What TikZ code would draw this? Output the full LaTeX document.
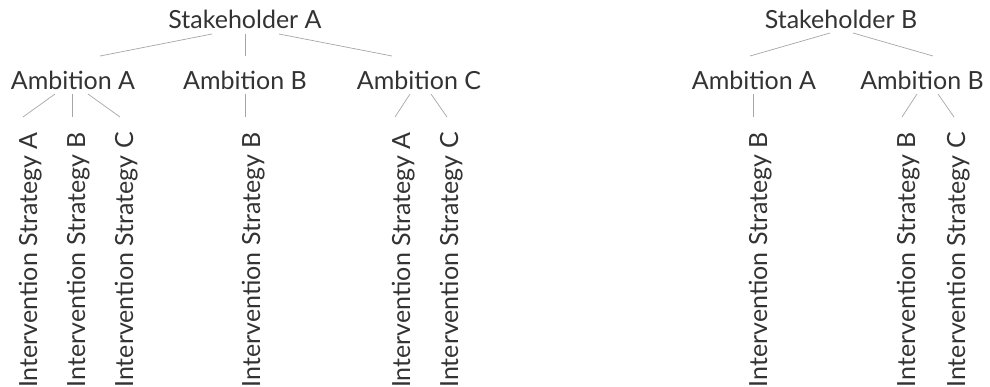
\documentclass[tikz,border=0pt]{standalone}
\usepackage{fontspec}
\setmainfont{Lato}
\usepackage{tikz}

\begin{document}
\begin{tikzpicture}[x=1pt, y=-1pt, font=\fontsize{25}{30}\selectfont, every node/.style={text=black!80, inner sep=0pt}, holder/.style={anchor=base}, ambit/.style={anchor=base}, strat/.style={rotate=90, anchor=base east}, link/.style={draw=black!35, line width=0.7pt}]
\useasboundingbox (0,0) rectangle (990,386);
% stakeholder A
\node[holder] (sa) at (245,28) {Stakeholder A};
\node[ambit] (saA) at (73,89) {Ambition A};
\node[ambit] (saB) at (245,89) {Ambition B};
\node[ambit] (saC) at (419,89) {Ambition C};
\node[strat] (saA1) at (37,132) {Intervention Strategy A};
\node[strat] (saA2) at (85,132) {Intervention Strategy B};
\node[strat] (saA3) at (133,132) {Intervention Strategy C};
\node[strat] (saB1) at (260,132) {Intervention Strategy B};
\node[strat] (saC1) at (410,132) {Intervention Strategy A};
\node[strat] (saC2) at (458,132) {Intervention Strategy C};
% stakeholder B
\node[holder] (sb) at (841,28) {Stakeholder B};
\node[ambit] (sbA) at (754,89) {Ambition A};
\node[ambit] (sbB) at (922,89) {Ambition B};
\node[strat] (sbA1) at (767,132) {Intervention Strategy B};
\node[strat] (sbB1) at (915,132) {Intervention Strategy B};
\node[strat] (sbB2) at (965,132) {Intervention Strategy C};
% links
\draw[link] ([xshift=-33pt,yshift=-6pt]sa.base) -- ([xshift=27pt,yshift=33pt]saA.base);
\draw[link] ([yshift=-6pt]sa.base) -- ([yshift=33pt]saB.base);
\draw[link] ([xshift=34pt,yshift=-6pt]sa.base) -- ([xshift=-27pt,yshift=33pt]saC.base);
\draw[link] ([xshift=-18pt,yshift=-5pt]saA.base) -- ([xshift=-14pt,yshift=15pt]saA1.base east);
\draw[link] ([xshift=-1pt,yshift=-5pt]saA.base) -- ([xshift=-13pt,yshift=15pt]saA2.base east);
\draw[link] ([xshift=15pt,yshift=-5pt]saA.base) -- ([xshift=-13pt,yshift=15pt]saA3.base east);
\draw[link] ([yshift=-5pt]saB.base) -- ([xshift=-15pt,yshift=15pt]saB1.base east);
\draw[link] ([xshift=-9pt,yshift=-5pt]saC.base) -- ([xshift=-15pt,yshift=15pt]saC1.base east);
\draw[link] ([xshift=12pt,yshift=-5pt]saC.base) -- ([xshift=-11pt,yshift=15pt]saC2.base east);
\draw[link] ([xshift=-11pt,yshift=-5pt]sb.base) -- ([xshift=-4pt,yshift=33pt]sbA.base);
\draw[link] ([xshift=12pt,yshift=-5pt]sb.base) -- ([xshift=11pt,yshift=33pt]sbB.base);
\draw[link] ([xshift=-1pt,yshift=-5pt]sbA.base) -- ([xshift=-14pt,yshift=15pt]sbA1.base east);
\draw[link] ([xshift=-5pt,yshift=-5pt]sbB.base) -- ([xshift=-13pt,yshift=15pt]sbB1.base east);
\draw[link] ([xshift=16pt,yshift=-5pt]sbB.base) -- ([xshift=-11pt,yshift=15pt]sbB2.base east);
\end{tikzpicture}
\end{document}
